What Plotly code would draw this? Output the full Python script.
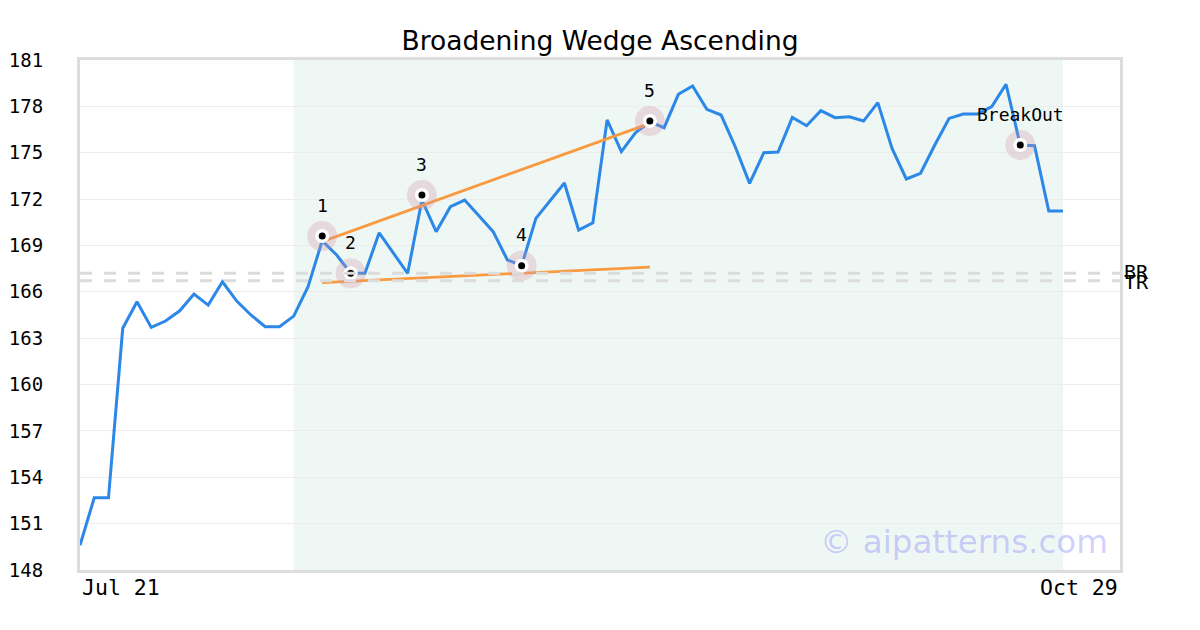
import plotly.graph_objects as go

# ---- data ----
x_index = list(range(70))
close = [149.6, 152.67, 152.67, 163.64, 165.36, 163.70, 164.11, 164.77, 165.85, 165.14,
         166.65, 165.40, 164.50, 163.74, 163.74, 164.43, 166.31, 169.3, 168.4, 167.2,
         167.2, 169.82, 168.5, 167.2, 171.94, 169.89, 171.51, 171.94, 170.92, 169.89,
         168.06, 167.7, 170.75, 171.9, 173.04, 170.0, 170.47, 177.12, 175.07, 176.3,
         177.0, 176.62, 178.78, 179.32, 177.81, 177.44, 175.37, 173.02, 175.0, 175.05,
         177.29, 176.75, 177.72, 177.27, 177.33, 177.05, 178.24, 175.28, 173.30, 173.67,
         175.5, 177.22, 177.5, 177.5, 177.98, 179.43, 175.5, 175.45, 171.23, 171.23]

pivot_x = [17, 19, 24, 31, 40, 66]
pivot_y = [169.61, 167.2, 172.26, 167.69, 177.05, 175.5]
pivot_labels = ["1", "2", "3", "4", "5", "BreakOut"]

upper_x = [17, 40]
upper_y = [169.25, 176.9]
lower_x = [17, 40]
lower_y = [166.6, 167.6]

level_names = ["BR", "TR"]
level_values = [167.2, 166.72]

pattern_start, pattern_end = 15, 69
x_tick_labels = ["Jul 21", "Oct 29"]
y_ticks = list(range(148, 182, 3))

MONO = "DejaVu Sans Mono"

fig = go.Figure()

fig.add_trace(go.Scatter(x=x_index, y=close, mode="lines",
                         line=dict(color="#2b87e8", width=3), hoverinfo="skip"))
fig.add_trace(go.Scatter(x=upper_x, y=upper_y, mode="lines",
                         line=dict(color="#fa9a40", width=2.8), hoverinfo="skip"))
fig.add_trace(go.Scatter(x=lower_x, y=lower_y, mode="lines",
                         line=dict(color="#fa9a40", width=2.8), hoverinfo="skip"))
# pivot markers: halo, white ring, black dot
fig.add_trace(go.Scatter(x=pivot_x, y=pivot_y, mode="markers",
                         marker=dict(size=30, color="rgba(210,150,170,0.3)", line=dict(width=0))))
fig.add_trace(go.Scatter(x=pivot_x, y=pivot_y, mode="markers",
                         marker=dict(size=14, color="white", line=dict(width=0))))
fig.add_trace(go.Scatter(x=pivot_x, y=pivot_y, mode="markers",
                         marker=dict(size=7, color="black", line=dict(width=0))))

shapes = [dict(type="rect", xref="x", yref="paper", x0=pattern_start, x1=pattern_end,
               y0=0, y1=1, fillcolor="#eef7f3", line=dict(width=0), layer="below")]
for v in level_values:
    shapes.append(dict(type="line", xref="paper", yref="y", x0=0, x1=1, y0=v, y1=v,
                       line=dict(color="#dcdcdc", width=3, dash="12px,12px"), layer="above"))

annotations = []
for px_, py_, lab in zip(pivot_x, pivot_y, pivot_labels):
    annotations.append(dict(xref="x", yref="y", x=px_, y=py_, text=lab, showarrow=False,
                            xanchor="center", yanchor="middle", yshift=31,
                            font=dict(family=MONO, size=18, color="black")))
for name, v, shift in zip(level_names, level_values, [1, -1]):
    annotations.append(dict(xref="paper", yref="y", x=1, y=v, text=name, showarrow=False,
                            xanchor="left", xshift=2, yshift=shift,
                            font=dict(family=MONO, size=20, color="black")))
annotations.append(dict(xref="paper", yref="paper", x=0, y=0, yshift=-3, text=x_tick_labels[0],
                        showarrow=False, xanchor="left", yanchor="top",
                        font=dict(family=MONO, size=21.5, color="black")))
annotations.append(dict(xref="paper", yref="paper", x=1, y=0, yshift=-3, text=x_tick_labels[1],
                        showarrow=False, xanchor="right", yanchor="top",
                        font=dict(family=MONO, size=21.5, color="black")))
annotations.append(dict(xref="paper", yref="paper", x=0.99, y=0.055, text="© aipatterns.com",
                        showarrow=False, xanchor="right", yanchor="middle",
                        font=dict(family="DejaVu Sans", size=32.5, color="rgba(110,110,255,0.33)")))

fig.update_layout(
    width=1200, height=630,
    margin=dict(l=72, r=88, t=52, b=68, autoexpand=False),
    paper_bgcolor="white", plot_bgcolor="white",
    showlegend=False,
    title=dict(text="Broadening Wedge Ascending", xref="paper", x=0.5, xanchor="center",
               y=1 - 33 / 630, yanchor="middle",
               font=dict(family="DejaVu Sans", size=26.5, color="black")),
    shapes=shapes, annotations=annotations,
    xaxis=dict(range=[0, 73], showgrid=False, zeroline=False, showticklabels=False,
               automargin=False,
               showline=True, mirror=True, linecolor="#dddddd", linewidth=3),
    yaxis=dict(range=[148, 181], tickvals=y_ticks, showgrid=True, gridcolor="#ececec",
               gridwidth=1, zeroline=False, showline=True, mirror=True, automargin=False,
               linecolor="#dddddd", linewidth=3, ticklabelstandoff=30,
               tickfont=dict(family=MONO, size=19, color="black")),
)

fig.write_html("out.html")
